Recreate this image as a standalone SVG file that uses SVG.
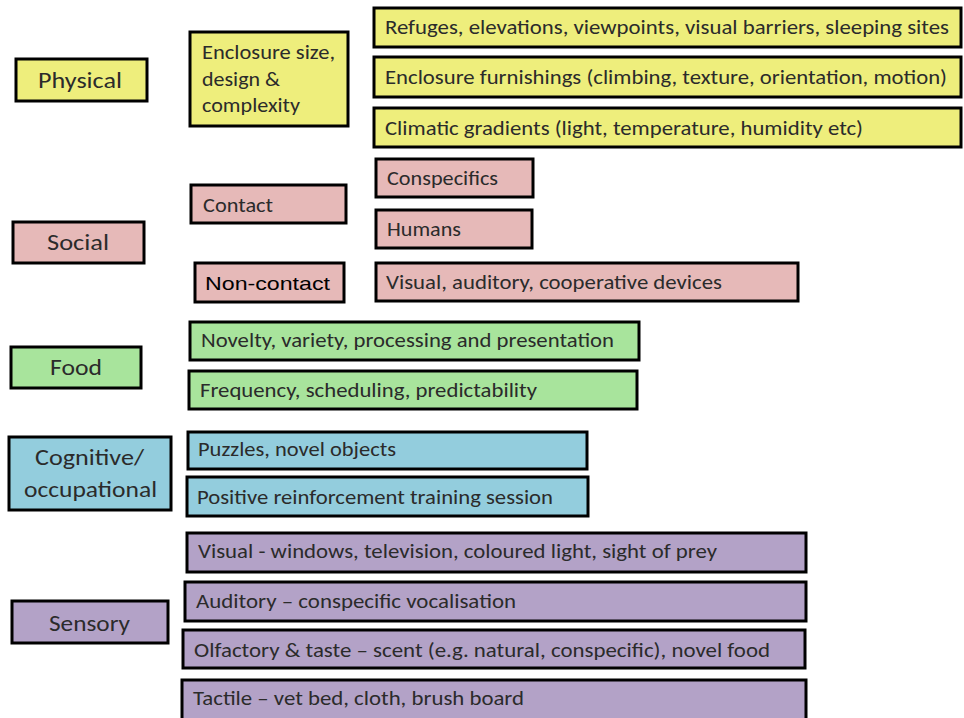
<svg xmlns="http://www.w3.org/2000/svg" width="964" height="718" viewBox="0 0 964 718">
<style>
rect{stroke:#000;stroke-width:3}
.y{fill:#eeee7c}.p{fill:#e6b9b8}.g{fill:#a8e49c}.b{fill:#93cddd}.v{fill:#b3a2c7}
text{font-family:Carlito,Lato,"Open Sans",sans-serif;font-size:20px;fill:#2b2b2b}
.c{font-size:23px}
.a{font-family:"Liberation Sans",Arial,sans-serif;font-size:19px;fill:#000}
</style>
<rect width="964" height="718" fill="#fff" style="stroke:none"/>
<g id="physical"><rect class="y" x="16" y="59" width="131" height="42"/><text class="c" x="38" y="88" textLength="84" lengthAdjust="spacingAndGlyphs">Physical</text></g>
<g id="enclosure"><rect class="y" x="190" y="32" width="158" height="94"/>
<text x="202" y="59" textLength="133" lengthAdjust="spacingAndGlyphs">Enclosure size,</text>
<text x="202" y="86" textLength="78" lengthAdjust="spacingAndGlyphs">design &amp;</text>
<text x="202" y="112" textLength="98" lengthAdjust="spacingAndGlyphs">complexity</text></g>
<g id="refuges"><rect class="y" x="374" y="8" width="587" height="39"/><text x="385" y="34" textLength="564" lengthAdjust="spacingAndGlyphs">Refuges, elevations, viewpoints, visual barriers, sleeping sites</text></g>
<g id="furnishings"><rect class="y" x="374" y="57" width="587" height="40"/><text x="385" y="84" textLength="562" lengthAdjust="spacingAndGlyphs">Enclosure furnishings (climbing, texture, orientation, motion)</text></g>
<g id="climatic"><rect class="y" x="374" y="108" width="587" height="39"/><text x="385" y="135" textLength="478" lengthAdjust="spacingAndGlyphs">Climatic gradients (light, temperature, humidity etc)</text></g>
<g id="social"><rect class="p" x="13" y="222" width="131" height="41"/><text class="c" x="47" y="250" textLength="62" lengthAdjust="spacingAndGlyphs">Social</text></g>
<g id="contact"><rect class="p" x="191" y="185" width="155" height="38"/><text x="203" y="212" textLength="70" lengthAdjust="spacingAndGlyphs">Contact</text></g>
<g id="noncontact"><rect class="p" x="195" y="263" width="149" height="39"/><text class="a" x="205" y="290" textLength="125" lengthAdjust="spacingAndGlyphs">Non-contact</text></g>
<g id="conspecifics"><rect class="p" x="376" y="159" width="157" height="38"/><text x="387" y="185" textLength="111" lengthAdjust="spacingAndGlyphs">Conspecifics</text></g>
<g id="humans"><rect class="p" x="376" y="210" width="156" height="38"/><text x="387" y="236" textLength="74" lengthAdjust="spacingAndGlyphs">Humans</text></g>
<g id="visualaud"><rect class="p" x="376" y="263" width="422" height="38"/><text x="386" y="289" textLength="336" lengthAdjust="spacingAndGlyphs">Visual, auditory, cooperative devices</text></g>
<g id="food"><rect class="g" x="11" y="347" width="130" height="41"/><text class="c" x="50" y="375" textLength="52" lengthAdjust="spacingAndGlyphs">Food</text></g>
<g id="novelty"><rect class="g" x="190" y="322" width="449" height="38"/><text x="201" y="347" textLength="413" lengthAdjust="spacingAndGlyphs">Novelty, variety, processing and presentation</text></g>
<g id="frequency"><rect class="g" x="189" y="371" width="448" height="38"/><text x="200" y="397" textLength="337" lengthAdjust="spacingAndGlyphs">Frequency, scheduling, predictability</text></g>
<g id="cognitive"><rect class="b" x="9" y="437" width="162" height="73"/>
<text class="c" x="35" y="465" textLength="109" lengthAdjust="spacingAndGlyphs">Cognitive/</text>
<text class="c" x="24" y="497" textLength="133" lengthAdjust="spacingAndGlyphs">occupational</text></g>
<g id="puzzles"><rect class="b" x="188" y="432" width="399" height="37"/><text x="198" y="456" textLength="198" lengthAdjust="spacingAndGlyphs">Puzzles, novel objects</text></g>
<g id="positive"><rect class="b" x="187" y="477" width="401" height="39"/><text x="197" y="504" textLength="356" lengthAdjust="spacingAndGlyphs">Positive reinforcement  training session</text></g>
<g id="sensory"><rect class="v" x="12" y="601" width="156" height="42"/><text class="c" x="49" y="631" textLength="81" lengthAdjust="spacingAndGlyphs">Sensory</text></g>
<g id="visual"><rect class="v" x="187" y="533" width="619" height="39"/><text x="198" y="558" textLength="519" lengthAdjust="spacingAndGlyphs">Visual - windows, television, coloured light, sight of prey</text></g>
<g id="auditory"><rect class="v" x="185" y="582" width="621" height="39"/><text x="196" y="608" textLength="320" lengthAdjust="spacingAndGlyphs">Auditory – conspecific vocalisation</text></g>
<g id="olfactory"><rect class="v" x="183" y="630" width="622" height="38"/><text x="194" y="657" textLength="576" lengthAdjust="spacingAndGlyphs">Olfactory &amp; taste – scent (e.g. natural, conspecific), novel food</text></g>
<g id="tactile"><rect class="v" x="182" y="680" width="624" height="42"/><text x="193" y="705" textLength="331" lengthAdjust="spacingAndGlyphs">Tactile – vet bed, cloth, brush board</text></g>
<g id="connectors"></g>
</svg>
